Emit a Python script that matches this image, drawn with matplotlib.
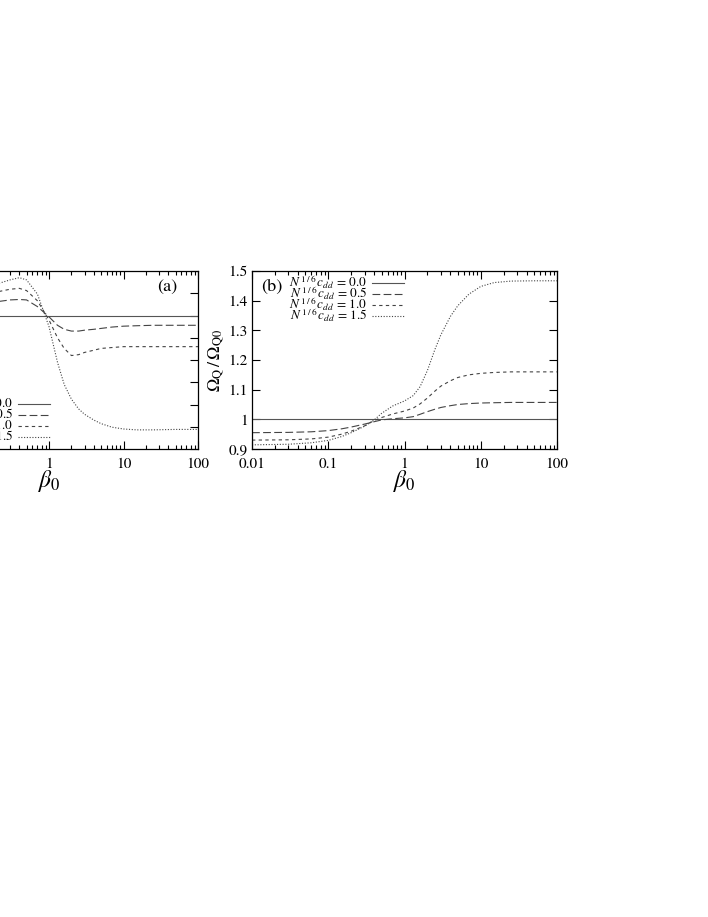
import matplotlib
matplotlib.use("Agg")
import matplotlib.pyplot as plt
from matplotlib.ticker import LogLocator, FixedLocator, NullFormatter, FixedFormatter

plt.rcParams['font.family'] = ['STIXGeneral', 'DejaVu Serif']
plt.rcParams['mathtext.fontset'] = 'stix'

beta0 = [0.01, 0.03, 0.06, 0.1, 0.15, 0.2, 0.3, 0.4, 0.5, 0.7, 1.0, 1.3, 1.6,
         2.0, 2.5, 3.0, 4.0, 5.0, 7.0, 10, 15, 25, 50, 100]
cdd_labels = ['0.0', '0.5', '1.0', '1.5']

# panel (a)
a_00 = [1.0] * len(beta0)
a_05 = [1.020, 1.021, 1.023, 1.026, 1.029, 1.031, 1.035, 1.036, 1.035, 1.020, 0.997, 0.978,
        0.969, 0.965, 0.965, 0.967, 0.969, 0.971, 0.974, 0.976, 0.977, 0.978, 0.978, 0.978]
a_10 = [1.040, 1.041, 1.043, 1.047, 1.050, 1.053, 1.059, 1.061, 1.056, 1.033, 0.990, 0.950,
        0.926, 0.910, 0.912, 0.917, 0.922, 0.926, 0.928, 0.930, 0.930, 0.930, 0.930, 0.930]
a_15 = [1.055, 1.057, 1.060, 1.064, 1.068, 1.071, 1.080, 1.085, 1.080, 1.048, 0.975, 0.895,
        0.845, 0.812, 0.790, 0.778, 0.765, 0.757, 0.749, 0.745, 0.743, 0.743, 0.744, 0.744]

# panel (b)
b_00 = [1.0] * len(beta0)
b_05 = [0.955, 0.956, 0.958, 0.962, 0.968, 0.974, 0.984, 0.992, 0.998, 1.002, 1.005, 1.009,
        1.017, 1.026, 1.034, 1.040, 1.046, 1.050, 1.053, 1.055, 1.056, 1.057, 1.057, 1.057]
b_10 = [0.930, 0.931, 0.934, 0.940, 0.950, 0.960, 0.978, 0.996, 1.006, 1.018, 1.028, 1.038,
        1.052, 1.072, 1.095, 1.112, 1.130, 1.141, 1.150, 1.155, 1.158, 1.160, 1.160, 1.160]
b_15 = [0.914, 0.916, 0.921, 0.929, 0.942, 0.955, 0.977, 0.998, 1.020, 1.045, 1.062, 1.080,
        1.110, 1.165, 1.235, 1.285, 1.347, 1.383, 1.422, 1.448, 1.461, 1.466, 1.467, 1.467]

x_ticks = [0.01, 0.1, 1, 10, 100]
x_ticklabels_b = ['0.01', '0.1', '1', '10', '100']
x_ticklabels_a = ['', '', '1', '10', '100']
a_yticks = [0.70, 0.75, 0.80, 0.85, 0.90, 0.95, 1.00, 1.05, 1.10]
b_yticks = [0.9, 1.0, 1.1, 1.2, 1.3, 1.4, 1.5]
b_yticklabels = ['0.9', '1', '1.1', '1.2', '1.3', '1.4', '1.5']

styles = [
    dict(linestyle='-', color='#555555', lw=0.8),
    dict(linestyle=(0, (7, 3)), color='#444444', lw=0.8),
    dict(linestyle=(0, (3, 3)), color='#444444', lw=0.8),
    dict(linestyle=(0, (1, 1.5)), color='#444444', lw=0.8),
]

W, H = 708, 917
fig = plt.figure(figsize=(W / 100, H / 100), dpi=100)

def px_axes(x0, x1, y0, y1):
    return fig.add_axes([x0 / W, 1 - y1 / H, (x1 - x0) / W, (y1 - y0) / H])

axa = px_axes(-100, 198, 271, 449)
axb = px_axes(252, 557, 271, 449)

def style_axes(ax):
    ax.set_xscale('log')
    ax.set_xlim(0.01, 100)
    ax.xaxis.set_major_locator(FixedLocator(x_ticks))
    ax.xaxis.set_minor_locator(LogLocator(base=10, subs=range(2, 10)))
    ax.xaxis.set_minor_formatter(NullFormatter())
    ax.tick_params(which='both', direction='in', top=True, right=True,
                   labelsize=11, width=0.8)
    ax.tick_params(which='major', length=6, pad=6)
    ax.tick_params(which='minor', length=3)
    for s in ax.spines.values():
        s.set_linewidth(0.9)
    ax.set_xlabel(r'$\beta_0$', fontsize=17, labelpad=-2)

legend_kw = dict(frameon=False, markerfirst=False, fontsize=9.5, handlelength=2.4,
                 handletextpad=0.4, labelspacing=-0.5, borderaxespad=0, borderpad=0)

def leg_label(v):
    return r'$N^{\,1\,/\,6}\,c_{dd}$ = ' + v

# (a)
style_axes(axa)
ya = [a_00, a_05, a_10, a_15]
for y, st, lab in zip(ya, styles, cdd_labels):
    axa.plot(beta0, y, label=leg_label(lab), **st)
axa.set_ylim(0.7, 1.1)
axa.yaxis.set_major_locator(FixedLocator(a_yticks))
axa.tick_params(axis='y', labelleft=False)
axa.xaxis.set_major_formatter(FixedFormatter(x_ticklabels_a))
axa.text(0.93, 0.91, '(a)', transform=axa.transAxes, ha='right', va='center', fontsize=13)
axa.legend(loc='lower right', bbox_to_anchor=(0.503, 0.02), **legend_kw)

# (b)
style_axes(axb)
yb = [b_00, b_05, b_10, b_15]
for y, st, lab in zip(yb, styles, cdd_labels):
    axb.plot(beta0, y, label=leg_label(lab), **st)
axb.set_ylim(0.9, 1.5)
axb.yaxis.set_major_locator(FixedLocator(b_yticks))
axb.yaxis.set_major_formatter(FixedFormatter(b_yticklabels))
axb.xaxis.set_major_formatter(FixedFormatter(x_ticklabels_b))
axb.tick_params(axis='y', pad=3)
axb.set_ylabel(r'$\Omega_{\mathrm{Q}}\,/\,\Omega_{\mathrm{Q0}}$', fontsize=13, labelpad=2)
axb.text(0.03, 0.91, '(b)', transform=axb.transAxes, ha='left', va='center', fontsize=13)
axb.legend(loc='upper right', bbox_to_anchor=(0.498, 0.985), **legend_kw)

fig.savefig('out.png', dpi=100)
